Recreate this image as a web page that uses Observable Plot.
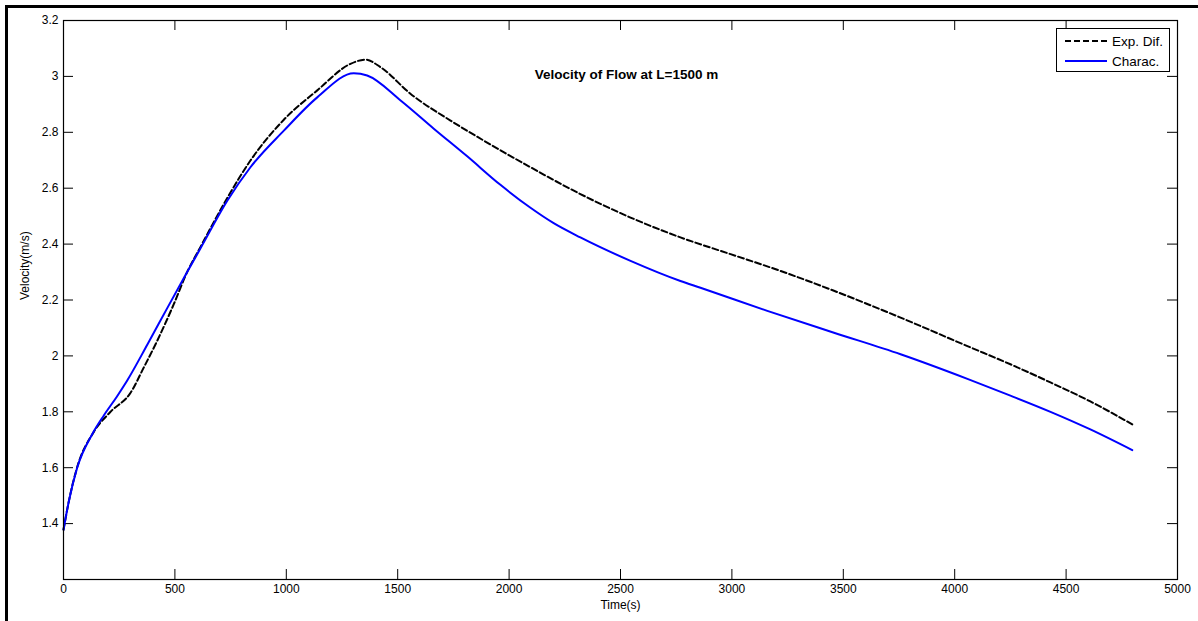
<!DOCTYPE html>
<html>
<head>
<meta charset="utf-8">
<script src="https://cdn.jsdelivr.net/npm/d3@7"></script>
<script src="https://cdn.jsdelivr.net/npm/@observablehq/plot@0.6"></script>
<style>
  html, body { margin: 0; padding: 0; background: #fff; }
  #wrap { position: relative; width: 1198px; height: 621px; overflow: hidden; font-family: "Liberation Sans", Arial, sans-serif; }
  #border { position: absolute; left: 5px; top: 5px; width: 1300px; height: 700px; border-left: 3px solid #000; border-top: 3px solid #000; box-sizing: border-box; }
  #chart { position: absolute; left: 0; top: 0; }
  #legend { position: absolute; left: 1056px; top: 28px; width: 114px; height: 44px; border: 1px solid #000; background: #fff; box-sizing: border-box; font-size: 13.5px; color: #000; }
  #legend .row { position: absolute; left: 0; height: 16px; display: flex; align-items: center; }
  #legend svg { margin-left: 8px; margin-right: 5px; }
</style>
</head>
<body>
<div id="wrap">
  <div id="border"></div>
  <div id="chart"></div>
  <div id="legend"></div>
</div>
<script>
// Explicit-difference scheme: time (s) and velocity (m/s)
const tExp = [0, 24, 60, 136, 211, 301, 360, 420, 495, 555, 615, 735, 839, 989, 1139, 1288, 1355, 1423, 1557, 1737, 1887, 2096, 2320, 2545, 2769, 2994, 3218, 3458, 3757, 4057, 4250, 4430, 4609, 4797];
const vExp = [1.378, 1.48, 1.598, 1.728, 1.80, 1.868, 1.958, 2.053, 2.185, 2.30, 2.39, 2.565, 2.699, 2.845, 2.95, 3.045, 3.06, 3.033, 2.938, 2.842, 2.77, 2.675, 2.579, 2.495, 2.424, 2.364, 2.304, 2.233, 2.137, 2.035, 1.97, 1.905, 1.837, 1.755];

// Method of characteristics: time (s) and velocity (m/s)
const tChar = [0, 24, 61, 129, 181, 240, 286, 376, 465, 555, 615, 735, 839, 989, 1139, 1303, 1363, 1513, 1662, 1812, 1961, 2096, 2200, 2320, 2545, 2769, 2859, 3159, 3458, 3757, 4057, 4250, 4430, 4609, 4797];
const vChar = [1.378, 1.48, 1.599, 1.72, 1.787, 1.855, 1.912, 2.04, 2.17, 2.30, 2.385, 2.555, 2.675, 2.806, 2.925, 3.011, 3.003, 2.914, 2.813, 2.714, 2.612, 2.53, 2.475, 2.424, 2.34, 2.268, 2.244, 2.161, 2.083, 2.006, 1.918, 1.858, 1.80, 1.737, 1.663];

const xTicks = [0, 500, 1000, 1500, 2000, 2500, 3000, 3500, 4000, 4500, 5000];
const yTicks = [1.4, 1.6, 1.8, 2, 2.2, 2.4, 2.6, 2.8, 3, 3.2];
const seriesNames = ["Exp. Dif.", "Charac."];
const seriesColors = ["#000000", "#0000ff"];

const expData = tExp.map((t, i) => ({t, v: vExp[i]}));
const charData = tChar.map((t, i) => ({t, v: vChar[i]}));

const W = 1198, H = 621;
const M = {top: 20, right: 21, bottom: 42, left: 63};
const frameH = H - M.top - M.bottom;
const frameW = W - M.left - M.right;
const tick = 10;

const chart = Plot.plot({
  width: W,
  height: H,
  marginTop: M.top,
  marginRight: M.right,
  marginBottom: M.bottom,
  marginLeft: M.left,
  style: {fontFamily: "Liberation Sans, Arial, sans-serif", fontSize: "12px", color: "#000", background: "transparent"},
  x: {domain: [0, 5000]},
  y: {domain: [1.2, 3.2]},
  marks: [
    // inward ticks on all four sides
    Plot.tickX(xTicks, {x: d => d, insetTop: frameH - tick, stroke: "#000", strokeWidth: 1}),
    Plot.tickX(xTicks, {x: d => d, insetBottom: frameH - tick, stroke: "#000", strokeWidth: 1}),
    Plot.tickY(yTicks, {y: d => d, insetRight: frameW - tick, stroke: "#000", strokeWidth: 1}),
    Plot.tickY(yTicks, {y: d => d, insetLeft: frameW - tick, stroke: "#000", strokeWidth: 1}),
    Plot.axisX(xTicks, {tickSize: 0, tickPadding: 5, label: null, fontSize: 12, tickFormat: d => String(d)}),
    Plot.axisY(yTicks, {tickSize: 0, tickPadding: 5, label: null, fontSize: 12, tickFormat: d => String(d)}),
    Plot.line(expData, {x: "t", y: "v", stroke: seriesColors[0], strokeWidth: 2, strokeDasharray: "6,3", curve: "monotone-x"}),
    Plot.line(charData, {x: "t", y: "v", stroke: seriesColors[1], strokeWidth: 2, curve: "monotone-x"}),
    Plot.frame({stroke: "#000", strokeWidth: 1.2}),
    Plot.text(["Velocity of Flow at L=1500 m"], {frameAnchor: "top", dy: 49, dx: 6, fontWeight: "bold", fontSize: 13.5}),
    Plot.text(["Time(s)"], {frameAnchor: "bottom", dy: 29, fontSize: 12}),
    Plot.text(["Velocity(m/s)"], {frameAnchor: "left", rotate: -90, dx: -38, fontSize: 12})
  ]
});
document.getElementById("chart").appendChild(chart);

// legend box inside the axes
const legend = document.getElementById("legend");
seriesNames.forEach((name, i) => {
  const row = document.createElement("div");
  row.className = "row";
  row.style.top = (4 + i * 20) + "px";
  const s = d3.create("svg").attr("width", 42).attr("height", 4);
  s.append("line").attr("x1", 0).attr("x2", 42).attr("y1", 2).attr("y2", 2)
    .attr("stroke", seriesColors[i]).attr("stroke-width", 2)
    .attr("stroke-dasharray", i === 0 ? "6,3" : null);
  row.appendChild(s.node());
  const span = document.createElement("span");
  span.textContent = name;
  row.appendChild(span);
  legend.appendChild(row);
});
</script>
</body>
</html>
